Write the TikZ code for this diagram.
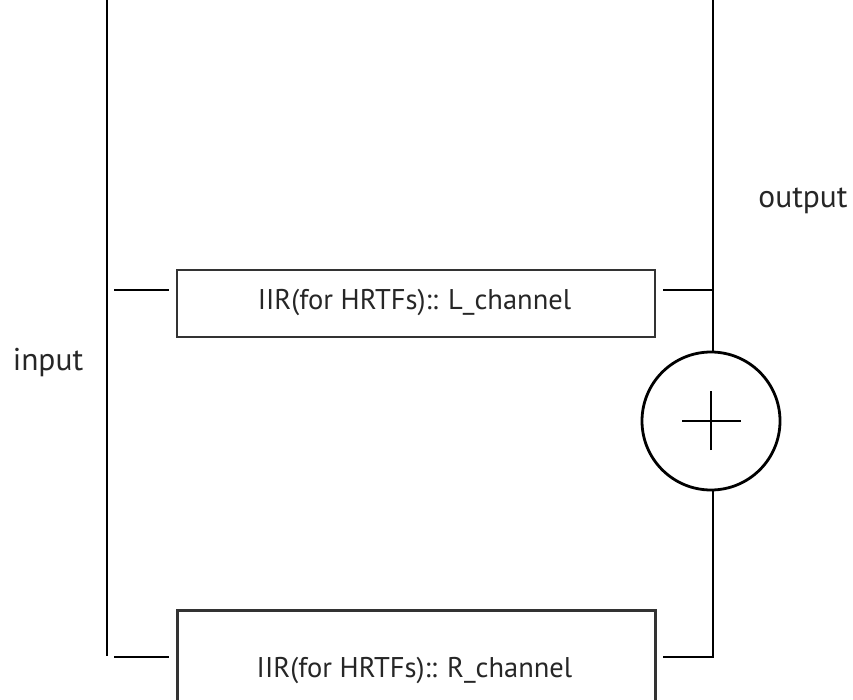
\documentclass[tikz,border=0pt]{standalone}
\usepackage{fontspec}
\setmainfont{PT Sans}
\begin{document}
\begin{tikzpicture}[x=1pt,y=-1pt,
  wire/.style={line width=2.8pt, black},
  block/.style={draw=black!80, line width=2.5pt, minimum width=478pt,
    inner sep=0pt},
  txt/.style={font=\fontsize{28.5}{34}\selectfont, text=black!85, inner sep=0pt},
  lbl/.style={font=\fontsize{31.5}{36}\selectfont, text=black!85, inner sep=0pt},
  summer/.style={circle, draw=black, line width=2.8pt, minimum size=138pt,
    inner sep=0pt}]
\useasboundingbox (0,0) rectangle (853,700);
\begin{scope}
\clip (0,0) rectangle (853,700);
% filter blocks
\node[block, minimum height=67pt] (L) at (416,303.5) {};
\node[block, minimum height=100pt, anchor=north] (R) at (416.5,609) {};
\node[txt, anchor=base] (Ltxt) at (414.5,309) {IIR(for HRTFs):: L\_channel};
\node[txt, anchor=base] (Rtxt) at (414.5,677) {IIR(for HRTFs):: R\_channel};
% adder
\node[summer] (S) at (711,421) {};
\draw[line width=2.5pt] ([xshift=-29pt]S.center) -- ([xshift=30pt]S.center)
  ([yshift=-29pt]S.center) -- ([yshift=30pt]S.center);
% input side
\coordinate (inTop) at (107,-5);
\coordinate (inBot) at (107,656);
\draw[wire] (inTop) -- (inBot);
\coordinate (inL) at (114,290);
\coordinate (inR) at (114,657);
\draw[wire] (inL) -- ([xshift=-7pt]L.west |- inL);
\draw[wire] (inR) -- ([xshift=-7pt]R.west |- inR);
% output side
\coordinate (outTop) at (713,-5);
\coordinate (jL) at (713,290);
\coordinate (jR) at (713,657);
\draw[wire] (outTop) -- (S.north -| outTop);
\draw[wire] ([xshift=7pt]L.east |- jL) -- (jL);
\draw[wire] (S.south -| jR) -- (jR) -- ([xshift=6pt]R.east |- jR);
% labels
\node[lbl, anchor=base] (inlbl) at (48,370) {input};
\node[lbl, anchor=base] (outlbl) at (803,208) {output};
\end{scope}
\end{tikzpicture}
\end{document}
